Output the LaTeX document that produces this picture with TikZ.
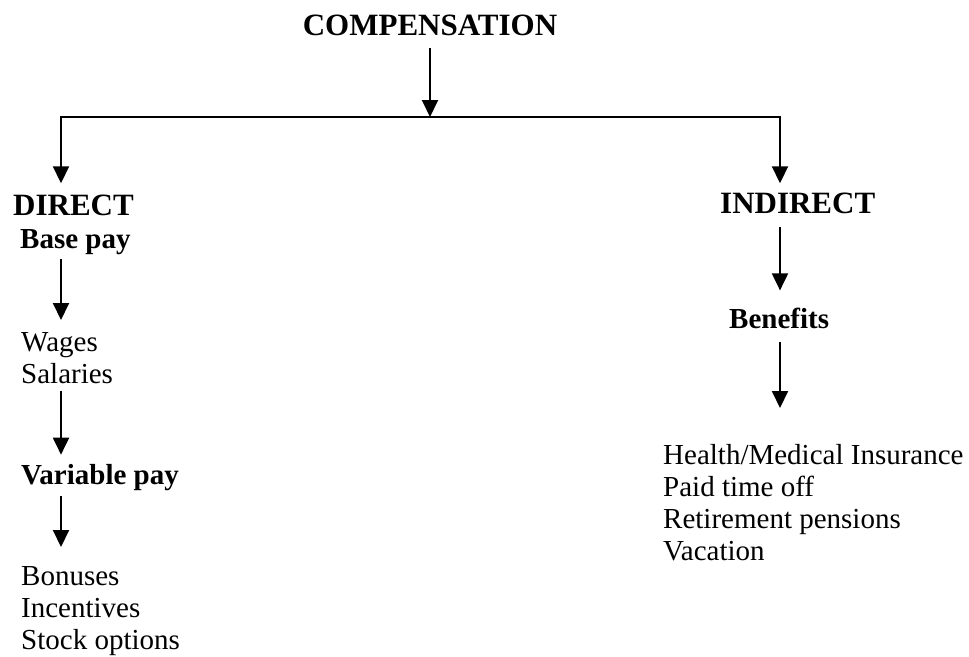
\documentclass[tikz,border=0pt]{standalone}
\usepackage{fontspec}
\setmainfont{Liberation Serif}
\usetikzlibrary{arrows.meta}

\begin{document}
\begin{tikzpicture}[
  x=1pt, y=-1pt,
  head/.style={font=\fontsize{31}{36}\selectfont\bfseries, inner sep=0pt, anchor=base west},
  sub/.style={font=\fontsize{29}{32}\selectfont\bfseries, inner sep=0pt, anchor=base west},
  items/.style={font=\fontsize{29}{32}\selectfont, inner sep=0pt, align=left, anchor=north west},
  arr/.style={-{Triangle[width=16pt,length=17pt]}, line width=2pt}
]
\useasboundingbox (0,0) rectangle (969,656);
\coordinate (lx) at (61,117);
\coordinate (rx) at (780,117);
\node[head, anchor=base] (comp) at (430,35) {COMPENSATION};
\node[head] (direct) at (13,215) {DIRECT};
\node[sub] (basepay) at (20,248) {Base pay};
\node[items] (wages) at (21,332) {Wages\\Salaries};
\node[sub] (varpay) at (21,484) {Variable pay};
\node[items] (bonus) at (21,566) {Bonuses\\Incentives\\Stock options};
\node[head] (indirect) at (720,213) {INDIRECT};
\node[sub] (benefits) at (729,328) {Benefits};
\node[items] (health) at (663,444) {Health/Medical Insurance\\Paid time off\\Retirement pensions\\Vacation};
\draw[arr, shorten <=13pt] (comp.base) -- (comp.base |- lx);
\draw[arr, shorten >=11pt] (comp.base |- lx) -- (lx) -- (lx |- direct.north);
\draw[arr, shorten >=9pt] (comp.base |- lx) -- (rx) -- (rx |- indirect.north);
\draw[arr, shorten <=11pt, shorten >=12pt] (basepay.base -| lx) -- (wages.north -| lx);
\draw[arr, shorten <=7pt, shorten >=9pt] (wages.south -| lx) -- (varpay.north -| lx);
\draw[arr, shorten <=12pt, shorten >=19pt] (varpay.base -| lx) -- (bonus.north -| lx);
\draw[arr, shorten <=14pt, shorten >=17pt] (indirect.base -| rx) -- (benefits.north -| rx);
\draw[arr, shorten <=14pt, shorten >=36pt] (benefits.base -| rx) -- (health.north -| rx);
\end{tikzpicture}
\end{document}
